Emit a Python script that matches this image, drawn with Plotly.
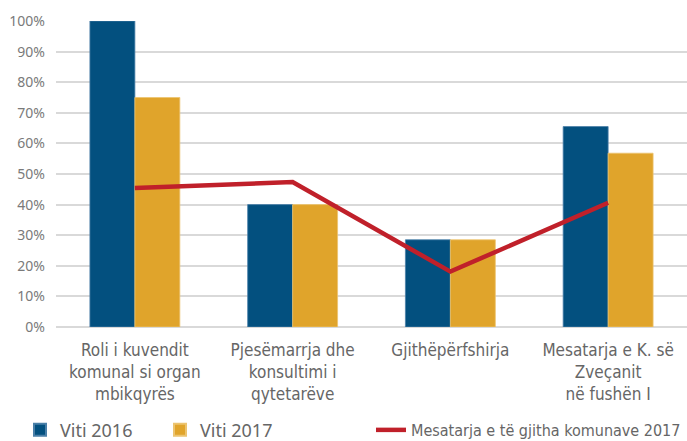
import plotly.graph_objects as go

categories = ["Roli i kuvendit<br>komunal si organ<br>mbikqyrës",
              "Pjesëmarrja dhe<br>konsultimi i<br>qytetarëve",
              "Gjithëpërfshirja",
              "Mesatarja e K. së<br>Zveçanit<br>në fushën I"]
viti_2016 = [1.00, 0.40, 0.285, 0.655]
viti_2017 = [0.75, 0.40, 0.285, 0.568]
mesatarja_2017 = [0.454, 0.474, 0.181, 0.406]

BLUE = "#03507f"
ORANGE = "#e0a42b"
RED = "#c0202a"
GRAY = "#666666"
NARROW = "DejaVu Sans Condensed, Liberation Sans Narrow, sans-serif"

x = list(range(len(categories)))

fig = go.Figure()
fig.add_trace(go.Bar(x=x, y=viti_2016, name="Viti 2016", marker_color=BLUE,
                     marker_line=dict(color="#4a7fa8", width=0.8), legend="legend"))
fig.add_trace(go.Bar(x=x, y=viti_2017, name="Viti 2017", marker_color=ORANGE,
                     marker_line=dict(color="#ecc470", width=0.8), legend="legend"))
fig.add_trace(go.Scatter(x=x, y=mesatarja_2017, name="Mesatarja e të gjitha komunave 2017",
                         mode="lines", line=dict(color=RED, width=4.5), legend="legend2"))

fig.update_layout(
    width=687, height=441,
    margin=dict(l=56, r=0, t=21, b=114, autoexpand=False),
    plot_bgcolor="white", paper_bgcolor="white",
    barmode="group", bargap=0.43, bargroupgap=0,
    font=dict(family="Noto Sans, sans-serif", color=GRAY),
    xaxis=dict(range=[-0.5, 3.5], tickvals=x, ticktext=categories,
               showgrid=False, zeroline=False, showline=False, automargin=False,
               tickfont=dict(family=NARROW, size=17, color=GRAY),
               ticklabelstandoff=11),
    yaxis=dict(range=[0, 1.0], dtick=0.1, tickformat=".0%", automargin=False,
               showgrid=True, gridcolor="#d9d9d9", gridwidth=1.5,
               zeroline=True, zerolinecolor="#d9d9d9", zerolinewidth=1.5,
               tickfont=dict(family="Noto Sans, sans-serif", size=14, color="#7a7a7a"),
               ticklabelstandoff=10),
    legend=dict(orientation="h", xref="container", yref="container",
                x=20 / 687, y=0.025, xanchor="left", yanchor="middle",
                entrywidth=95, entrywidthmode="pixels",
                font=dict(family="Noto Sans, sans-serif", size=18, color=GRAY),
                itemsizing="constant", bgcolor="rgba(0,0,0,0)"),
    legend2=dict(orientation="h", xref="container", yref="container",
                 x=371 / 687, y=0.025, xanchor="left", yanchor="middle",
                 font=dict(family=NARROW, size=16, color=GRAY),
                 bgcolor="rgba(0,0,0,0)"),
)

fig.write_html("out.html", config={"displayModeBar": False},
               post_script="document.body.style.margin='0';")
